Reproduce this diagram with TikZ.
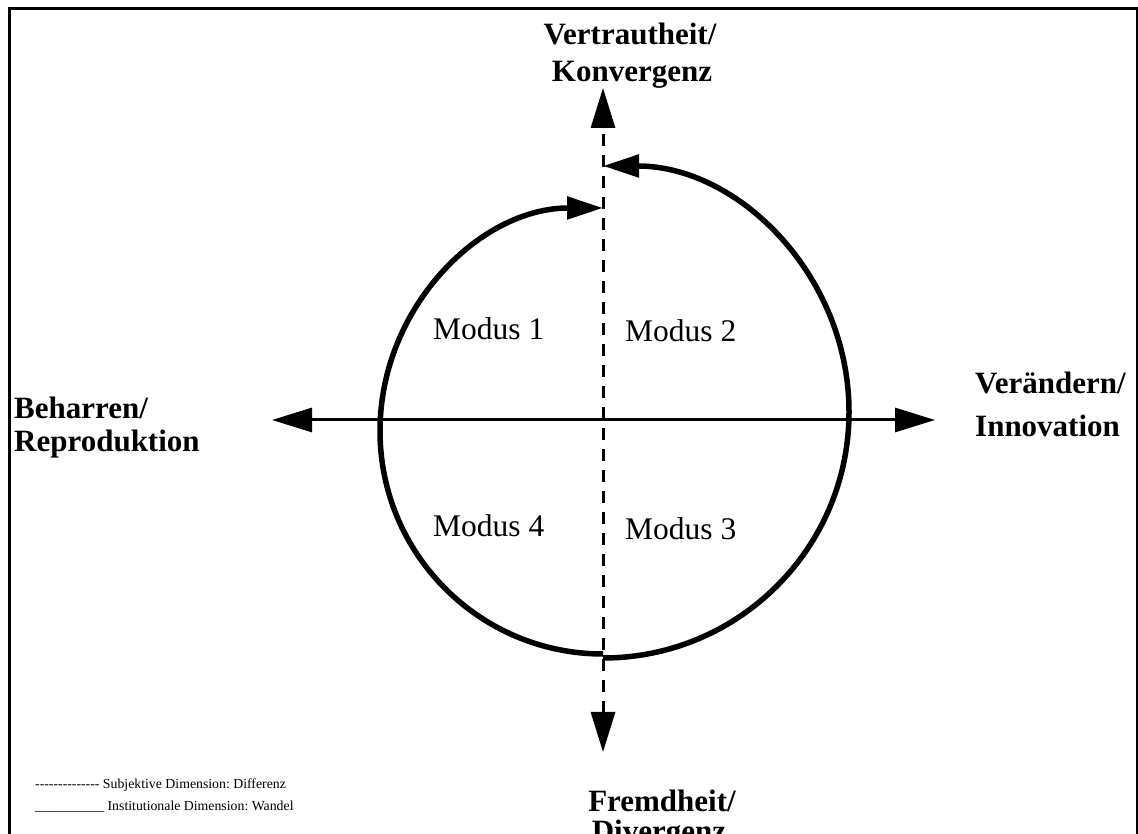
\documentclass[tikz,border=0pt]{standalone}
\usepackage{fontspec}
\setmainfont{Liberation Serif}
\usetikzlibrary{arrows.meta}
\newcommand\legdash{-\kern0pt}
\frenchspacing
\begin{document}
\begin{tikzpicture}[x=1pt,y=1pt,
  boldlabel/.style={font=\fontsize{31}{34}\selectfont\bfseries, inner sep=0pt, anchor=base west},
  boldcenter/.style={font=\fontsize{31}{34}\selectfont\bfseries, inner sep=0pt, anchor=base},
  modus/.style={font=\fontsize{31.5}{34}\selectfont, inner sep=0pt, anchor=base west},
  legend/.style={font=\fontsize{13.8}{17}\selectfont, inner sep=0pt, anchor=base west},
  axis/.style={line width=3pt, {Triangle[length=40pt,width=24pt]}-{Triangle[length=40pt,width=24pt]}},
  dashaxis/.style={axis, dash pattern=on 12pt off 9pt},
  loop/.style={line width=5.5pt, -{Triangle[length=36pt,width=22pt]}},
  frame/.style={line width=3pt}]
\useasboundingbox (0,0) rectangle (1138,834);
\clip (0,0) rectangle (1138,834);

% frame
\coordinate (FBL) at (9,-5);
\coordinate (FTL) at (9,825);
\coordinate (FTR) at (1137,825);
\coordinate (FBR) at (1137,-5);
\draw[frame] (FBL) -- (FTL) -- (FTR) -- (FBR);

% axes
\coordinate (W) at (272,414);
\coordinate (E) at (935,414);
\coordinate (N) at (603,746);
\coordinate (S) at (603,82);
\draw[axis] (W) -- (E);
\draw[dashaxis] (S) -- (N);

% loops
\coordinate (L0) at (603,180);
\coordinate (R0) at (603,176);
\draw[loop] (L0) arc[start angle=-90, end angle=-270, radius=223];
\draw[loop] (R0) arc[start angle=-90, end angle=90, radius=246];

% modus labels
\node[modus] (m1) at (433,494) {Modus 1};
\node[modus] (m2) at (625,492) {Modus 2};
\node[modus] (m4) at (433,297) {Modus 4};
\node[modus] (m3) at (625,294) {Modus 3};

% pole labels
\node[boldcenter] (t1) at (630,789) {Vertrautheit/};
\node[boldcenter] (t2) at (632,752) {Konvergenz};
\node[boldlabel] (l1) at (14,415) {Beharren/};
\node[boldlabel] (l2) at (14,382) {Reproduktion};
\node[boldlabel] (r1) at (975,440) {Verändern/};
\node[boldlabel] (r2) at (975,397) {Innovation};
\node[boldcenter] (b1) at (662,22) {Fremdheit/};
\node[boldcenter] (b2) at (659,-8) {Divergenz};

% legend
\node[legend] (lg1) at (35,45) {\legdash\legdash\legdash\legdash\legdash\legdash\legdash\legdash\legdash\legdash\legdash\legdash\legdash\legdash{} Subjektive Dimension: Differenz};
\node[legend] (lg2) at (35,23) {\_\_\_\_\_\_\_\_\_\_ Institutionale Dimension: Wandel};
\end{tikzpicture}
\end{document}
